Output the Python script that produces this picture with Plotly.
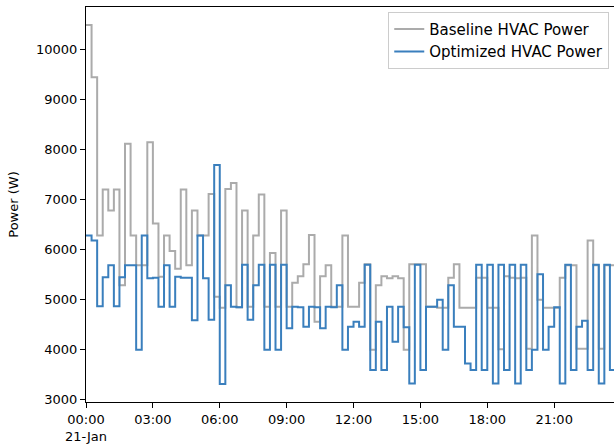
import pandas as pd
import plotly.graph_objects as go

start = "2024-01-21 00:00"
n_steps = 96

baseline_w = [
    10500, 9450, 6280, 7200, 6780, 7200, 5280, 8120, 6280, 5680, 5680, 8150,
    6520, 5450, 6280, 5970, 5610, 7200, 5680, 6780, 6280, 6280, 7110, 5050,
    4830, 7210, 7330, 4840, 6780, 4850, 6280, 7100, 4850, 5930, 4850, 6780,
    4850, 5330, 5460, 5700, 6290, 4550, 5460, 5680, 4850, 4850, 6280, 4850,
    4850, 5330, 5700, 3990, 5280, 5460, 5420, 5460, 5420, 3990, 5700, 5700,
    5700, 4850, 4850, 4830, 4830, 5430, 5700, 4830, 4830, 4830, 5430, 5430,
    4830, 4830, 4000, 5460, 5430, 5420, 5430, 4010, 6280, 4990, 4830, 4830,
    4830, 5430, 5680, 5680, 4010, 4010, 6180, 5680, 4010, 5680, 5680, 5680,
]

optimized_w = [
    6280, 6180, 4860, 5440, 5680, 4860, 5440, 5680, 5680, 3990, 6280, 5420,
    5430, 4850, 5680, 4850, 5450, 5430, 5430, 4580, 6280, 5420, 4590, 7690,
    3300, 5280, 4850, 4840, 5690, 4590, 5280, 5690, 3990, 5690, 3990, 5690,
    4420, 4850, 4840, 4450, 4850, 4840, 4420, 4850, 4840, 5280, 3990, 4450,
    4550, 4450, 5690, 3580, 4550, 3580, 4850, 4150, 4850, 4440, 3310, 5690,
    3580, 4850, 4850, 4990, 3990, 5280, 4450, 4450, 3710, 3580, 5690, 3580,
    5690, 3310, 5690, 3580, 5690, 3310, 5690, 3580, 3990, 5500, 3990, 4450,
    4840, 3310, 5690, 3580, 4450, 4570, 3580, 5690, 3310, 5690, 3580, 5690,
]

tick_times = ["00:00", "03:00", "06:00", "09:00", "12:00", "15:00", "18:00", "21:00"]
tick_labels = ["00:00<br>21-Jan", "03:00", "06:00", "09:00", "12:00", "15:00", "18:00", "21:00"]
y_ticks = [3000, 4000, 5000, 6000, 7000, 8000, 9000, 10000]
y_tick_labels = ["3000", "4000", "5000", "6000", "7000", "8000", "9000", "10000"]

times = pd.date_range(start=start, periods=n_steps, freq="15min")
tick_vals = [pd.Timestamp("2024-01-21 " + t) for t in tick_times]

fig = go.Figure()
fig.add_trace(go.Scatter(
    x=times, y=baseline_w, mode="lines", line_shape="hv",
    name="Baseline HVAC Power",
    line=dict(color="#ababab", width=2),
))
fig.add_trace(go.Scatter(
    x=times, y=optimized_w, mode="lines", line_shape="hv",
    name="Optimized HVAC Power",
    line=dict(color="#3a7fbd", width=2),
))

x_end = pd.Timestamp(start) + pd.Timedelta(minutes=1421)

fig.update_layout(
    width=614, height=448,
    margin=dict(l=86, r=0, t=7, b=46),
    paper_bgcolor="white", plot_bgcolor="white",
    font=dict(family="DejaVu Sans", size=13, color="black"),
    showlegend=True,
    legend=dict(
        x=0.991, y=0.988, xanchor="right", yanchor="top",
        bgcolor="rgba(255,255,255,0.85)", bordercolor="#cccccc", borderwidth=1,
        font=dict(size=15), itemwidth=30,
        tracegroupgap=0,
    ),
    xaxis=dict(
        type="date", range=[pd.Timestamp(start), x_end],
        tickmode="array", tickvals=tick_vals, ticktext=tick_labels,
        showgrid=False, zeroline=False,
        showline=True, linecolor="black", linewidth=1, mirror=True,
        ticks="outside", ticklen=5, tickcolor="black", tickwidth=1,
    ),
    yaxis=dict(
        range=[2940, 10860],
        tickmode="array", tickvals=y_ticks, ticktext=y_tick_labels,
        showgrid=False, zeroline=False,
        showline=True, linecolor="black", linewidth=1,
        ticks="outside", ticklen=5, tickcolor="black", tickwidth=1,
        title=dict(text="Power (W)", standoff=14, font=dict(size=13)),
    ),
)

fig.write_html("out.html")
